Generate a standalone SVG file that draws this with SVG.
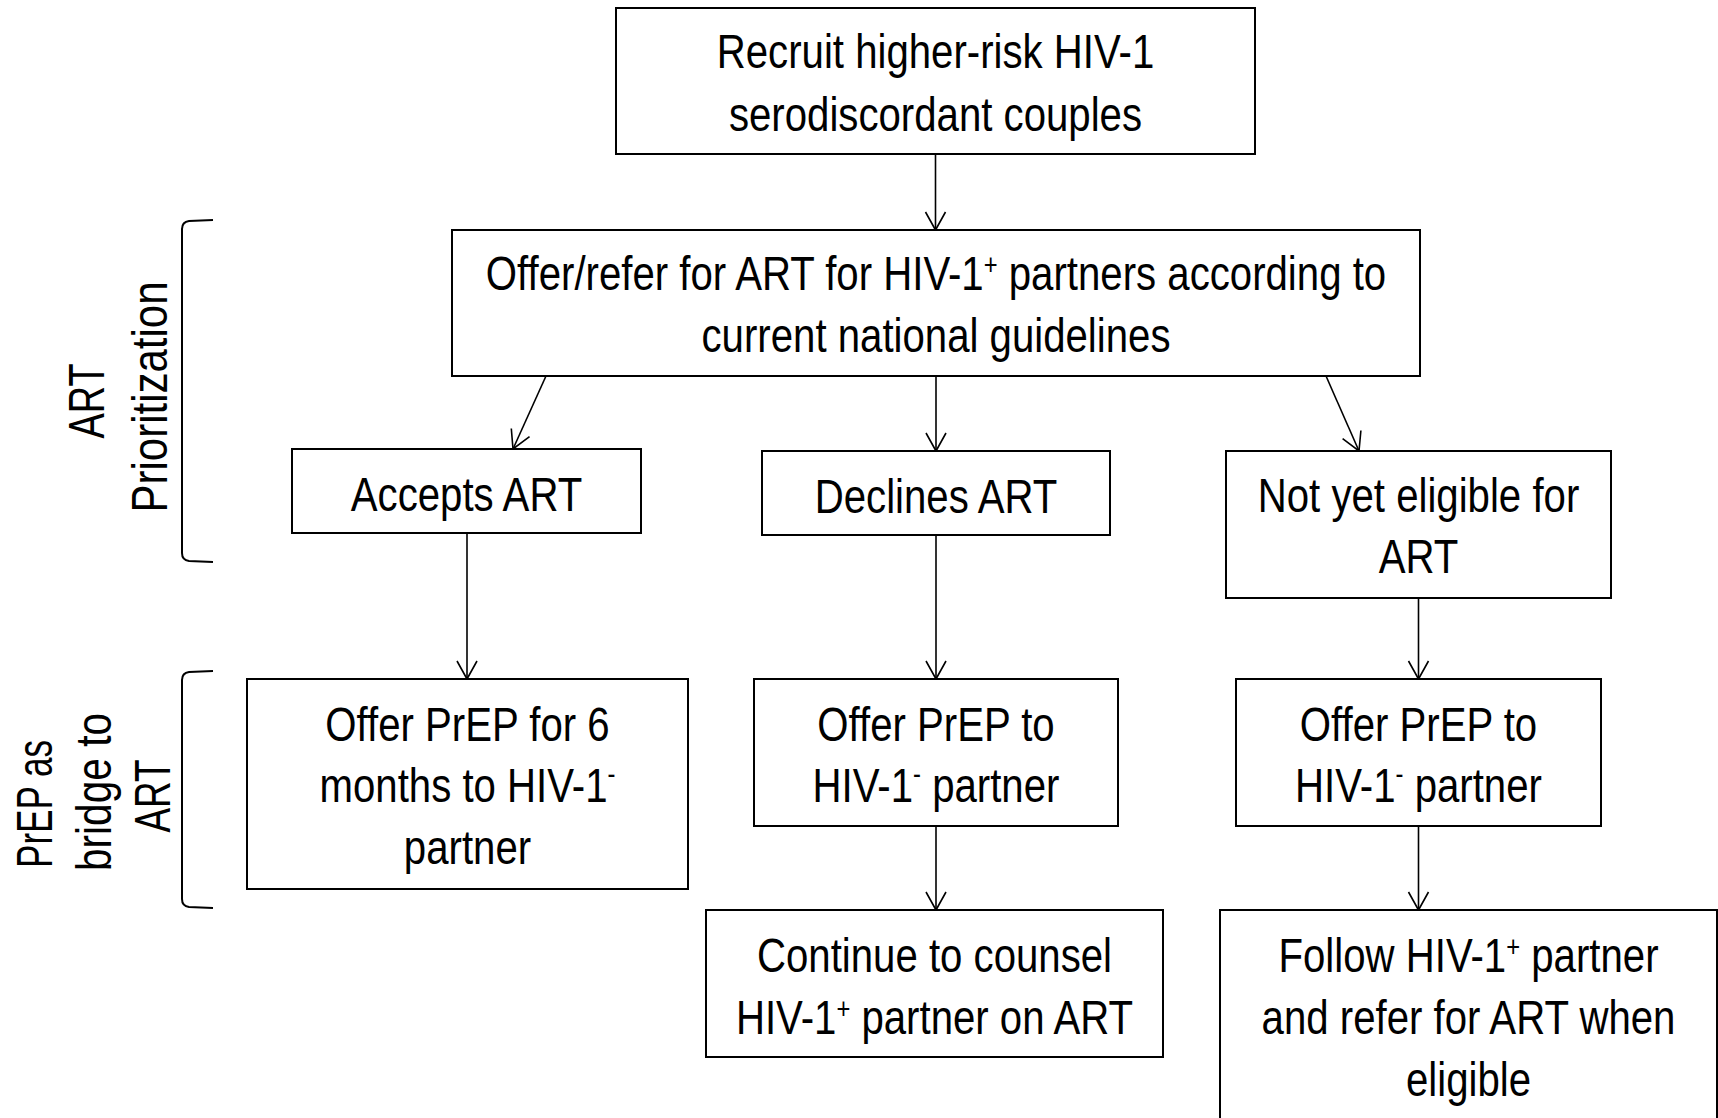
<svg xmlns="http://www.w3.org/2000/svg" width="1718" height="1118" viewBox="0 0 1718 1118">
<defs>
<style>
.box{fill:#fff;stroke:#000;stroke-width:2}
.t{font-family:"Liberation Sans",Arial,sans-serif;font-size:49px;fill:#000;text-anchor:middle}
.r{font-family:"Liberation Sans",Arial,sans-serif;font-size:50px;fill:#000;text-anchor:middle}
.c{fill:none;stroke:#000;stroke-width:1.6}
.br{fill:none;stroke:#000;stroke-width:2}
.sup{font-size:29px}
</style>
<marker id="ah" viewBox="-22 -12 24 24" refX="0" refY="0" markerWidth="24" markerHeight="24" markerUnits="userSpaceOnUse" orient="auto">
<path d="M -18 -10 L 0 0 L -18 10" fill="none" stroke="#000" stroke-width="1.6"/>
</marker>
</defs>
<rect x="0" y="0" width="1718" height="1118" fill="#fff"/>

<g id="labels">
<path class="br" d="M 213 220 L 189 221 Q 182 222 182 229 L 182 553 Q 182 560 189 561 L 213 562"/>
<text class="r" transform="translate(104 401) rotate(-90)" textLength="75" lengthAdjust="spacingAndGlyphs">ART</text>
<text class="r" transform="translate(167 397) rotate(-90)" textLength="231" lengthAdjust="spacingAndGlyphs">Prioritization</text>
<path class="br" d="M 213 671 L 189 672 Q 182 673 182 680 L 182 899 Q 182 906 189 907 L 213 908"/>
<text class="r" transform="translate(52 804) rotate(-90)" textLength="128" lengthAdjust="spacingAndGlyphs">PrEP as</text>
<text class="r" transform="translate(111 792) rotate(-90)" textLength="158" lengthAdjust="spacingAndGlyphs">bridge to</text>
<text class="r" transform="translate(170 796) rotate(-90)" textLength="73" lengthAdjust="spacingAndGlyphs">ART</text>
</g>

<g id="connectors">
<line class="c" x1="935.5" y1="154" x2="935.5" y2="230" marker-end="url(#ah)"/>
<line class="c" x1="546" y1="376" x2="513" y2="449" marker-end="url(#ah)"/>
<line class="c" x1="936" y1="376" x2="936" y2="451" marker-end="url(#ah)"/>
<line class="c" x1="1326" y1="376" x2="1359" y2="451" marker-end="url(#ah)"/>
<line class="c" x1="467" y1="533" x2="467" y2="679" marker-end="url(#ah)"/>
<line class="c" x1="936" y1="535" x2="936" y2="679" marker-end="url(#ah)"/>
<line class="c" x1="1418.5" y1="598" x2="1418.5" y2="679" marker-end="url(#ah)"/>
<line class="c" x1="936" y1="826" x2="936" y2="910" marker-end="url(#ah)"/>
<line class="c" x1="1418.5" y1="826" x2="1418.5" y2="910" marker-end="url(#ah)"/>
</g>

<g id="recruit">
<rect class="box" x="616" y="8" width="639" height="146"/>
<text class="t" transform="translate(935.5 0) scale(0.82 1)"><tspan x="0" y="68">Recruit higher-risk HIV-1</tspan><tspan x="0" y="131">serodiscordant couples</tspan></text>
</g>

<g id="offer-refer">
<rect class="box" x="452" y="230" width="968" height="146"/>
<text class="t" transform="translate(936 0) scale(0.82 1)"><tspan x="0" y="290">Offer/refer for ART for HIV-1<tspan class="sup" dy="-15">+</tspan><tspan dy="15"> partners according to</tspan></tspan><tspan x="0" y="352">current national guidelines</tspan></text>
</g>

<g id="accepts">
<rect class="box" x="292" y="449" width="349" height="84"/>
<text class="t" transform="translate(466.5 0) scale(0.82 1)"><tspan x="0" y="511">Accepts ART</tspan></text>
</g>

<g id="declines">
<rect class="box" x="762" y="451" width="348" height="84"/>
<text class="t" transform="translate(936 0) scale(0.82 1)"><tspan x="0" y="513">Declines ART</tspan></text>
</g>

<g id="not-eligible">
<rect class="box" x="1226" y="451" width="385" height="147"/>
<text class="t" transform="translate(1418.5 0) scale(0.82 1)"><tspan x="0" y="512">Not yet eligible for</tspan><tspan x="0" y="573">ART</tspan></text>
</g>

<g id="prep-6-months">
<rect class="box" x="247" y="679" width="441" height="210"/>
<text class="t" transform="translate(467.5 0) scale(0.82 1)"><tspan x="0" y="741">Offer PrEP for 6</tspan><tspan x="0" y="802">months to HIV-1<tspan class="sup" dy="-18">-</tspan></tspan><tspan x="0" y="864">partner</tspan></text>
</g>

<g id="prep-declines">
<rect class="box" x="754" y="679" width="364" height="147"/>
<text class="t" transform="translate(936 0) scale(0.82 1)"><tspan x="0" y="741">Offer PrEP to</tspan><tspan x="0" y="802">HIV-1<tspan class="sup" dy="-18">-</tspan><tspan dy="18"> partner</tspan></tspan></text>
</g>

<g id="prep-not-eligible">
<rect class="box" x="1236" y="679" width="365" height="147"/>
<text class="t" transform="translate(1418.5 0) scale(0.82 1)"><tspan x="0" y="741">Offer PrEP to</tspan><tspan x="0" y="802">HIV-1<tspan class="sup" dy="-18">-</tspan><tspan dy="18"> partner</tspan></tspan></text>
</g>

<g id="continue-counsel">
<rect class="box" x="706" y="910" width="457" height="147"/>
<text class="t" transform="translate(934.5 0) scale(0.82 1)"><tspan x="0" y="972">Continue to counsel</tspan><tspan x="0" y="1034">HIV-1<tspan class="sup" dy="-15">+</tspan><tspan dy="15"> partner on ART</tspan></tspan></text>
</g>

<g id="follow">
<rect class="box" x="1220" y="910" width="497" height="230"/>
<text class="t" transform="translate(1468.5 0) scale(0.82 1)"><tspan x="0" y="972">Follow HIV-1<tspan class="sup" dy="-15">+</tspan><tspan dy="15"> partner</tspan></tspan><tspan x="0" y="1034">and refer for ART when</tspan><tspan x="0" y="1096">eligible</tspan></text>
</g>
</svg>
